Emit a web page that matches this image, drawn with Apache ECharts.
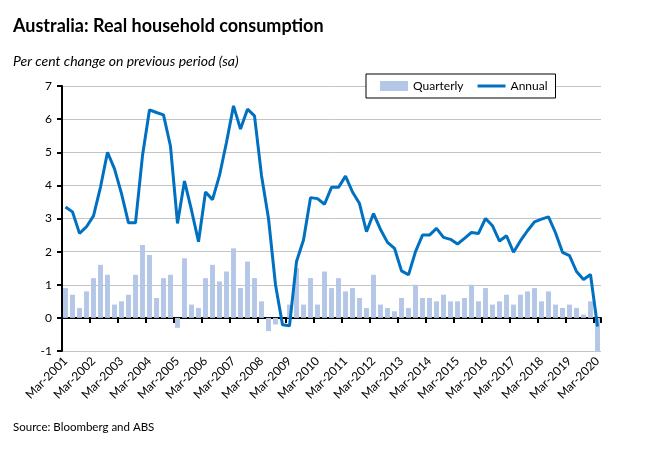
<!DOCTYPE html>
<html>
<head>
<meta charset="utf-8">
<script src="https://cdn.jsdelivr.net/npm/echarts@6/dist/echarts.min.js"></script>
<style>
html,body{margin:0;padding:0;background:#fff;}
#chart{width:650px;height:455px;}
</style>
</head>
<body>
<div id="chart"></div>
<script>
var categories = [
"Mar-2001","Jun-2001","Sep-2001","Dec-2001","Mar-2002","Jun-2002","Sep-2002","Dec-2002",
"Mar-2003","Jun-2003","Sep-2003","Dec-2003","Mar-2004","Jun-2004","Sep-2004","Dec-2004",
"Mar-2005","Jun-2005","Sep-2005","Dec-2005","Mar-2006","Jun-2006","Sep-2006","Dec-2006",
"Mar-2007","Jun-2007","Sep-2007","Dec-2007","Mar-2008","Jun-2008","Sep-2008","Dec-2008",
"Mar-2009","Jun-2009","Sep-2009","Dec-2009","Mar-2010","Jun-2010","Sep-2010","Dec-2010",
"Mar-2011","Jun-2011","Sep-2011","Dec-2011","Mar-2012","Jun-2012","Sep-2012","Dec-2012",
"Mar-2013","Jun-2013","Sep-2013","Dec-2013","Mar-2014","Jun-2014","Sep-2014","Dec-2014",
"Mar-2015","Jun-2015","Sep-2015","Dec-2015","Mar-2016","Jun-2016","Sep-2016","Dec-2016",
"Mar-2017","Jun-2017","Sep-2017","Dec-2017","Mar-2018","Jun-2018","Sep-2018","Dec-2018",
"Mar-2019","Jun-2019","Sep-2019","Dec-2019","Mar-2020"
];
var quarterly = [
0.9,0.7,0.3,0.8,1.2,1.6,1.3,0.4,0.5,0.7,1.3,2.2,1.9,0.6,1.2,1.3,-0.3,1.8,0.4,0.3,1.2,1.6,1.1,
1.4,2.1,0.9,1.7,1.2,0.5,-0.4,-0.2,0.0,0.4,1.5,0.4,1.2,0.4,1.4,0.9,1.2,0.8,0.9,0.6,0.3,1.3,0.4,0.3,0.2,0.6,0.3,1.0,
0.6,0.6,0.5,0.7,0.5,0.5,0.6,1.0,0.5,0.9,0.4,0.5,0.7,0.4,0.7,0.8,0.9,0.5,0.8,0.4,0.3,0.4,0.3,0.1,0.5,-1.0
];
var annual = [
3.35,3.2,2.55,2.75,3.08,3.95,5.0,4.5,3.75,2.87,2.87,4.9,6.28,6.2,6.13,5.18,2.85,4.13,3.25,2.3,3.8,3.57,4.3,
5.3,6.4,5.7,6.3,6.1,4.3,3.0,1.0,-0.21,-0.24,1.7,2.35,3.63,3.6,3.43,3.94,3.94,4.28,3.8,3.45,2.6,3.15,2.67,2.28,2.1,1.42,1.3,2.0,
2.5,2.5,2.7,2.43,2.37,2.23,2.4,2.58,2.55,3.0,2.78,2.32,2.48,1.98,2.33,2.63,2.9,2.98,3.05,2.57,1.98,1.88,1.4,1.16,1.31,-0.26
];
var yTicks = {min: -1, max: 7, interval: 1};
var FONT = 'Lato';

var chart = echarts.init(document.getElementById('chart'));
chart.setOption({
  animation: false,
  backgroundColor: '#fff',
  textStyle: {fontFamily: FONT},
  title: [
    {text: 'Australia: Real household consumption', left: 8, top: 12,
     textStyle: {fontFamily: FONT, fontSize: 18, fontWeight: 'bold', color: '#000'}},
    {text: 'Per cent change on previous period (sa)', left: 8, top: 49,
     textStyle: {fontFamily: FONT, fontSize: 14, fontStyle: 'italic', fontWeight: 'normal', color: '#000'}}
  ],
  legend: {
    left: 366, top: 74,
    padding: [6, 8, 6, 14],
    itemGap: 14,
    itemWidth: 28, itemHeight: 10,
    borderColor: '#000', borderWidth: 1,
    backgroundColor: '#fff',
    textStyle: {fontFamily: FONT, fontSize: 12, color: '#000'},
    data: [
      {name: 'Quarterly', icon: 'rect'},
      {name: 'Annual', icon: 'path://M0,0 L28,0 L28,3 L0,3 Z', itemStyle: {color: '#0070c0'}}
    ]
  },
  grid: {left: 62, right: 49, top: 86, bottom: 104, containLabel: false},
  xAxis: [
    {
      type: 'category', data: categories, position: 'bottom',
      axisLine: {show: false, onZero: false},
      axisTick: {show: false},
      axisLabel: {interval: 3, rotate: 45, margin: 8, fontFamily: FONT, fontSize: 12, color: '#000'},
      splitLine: {show: false}
    },
    {
      type: 'category', data: categories, position: 'bottom',
      axisLine: {show: true, onZero: true, lineStyle: {color: '#000', width: 2}},
      axisTick: {show: true, interval: 3, length: 5, lineStyle: {color: '#000', width: 2}},
      axisLabel: {show: false},
      splitLine: {show: false}
    }
  ],
  yAxis: {
    type: 'value', min: yTicks.min, max: yTicks.max, interval: yTicks.interval,
    axisLine: {show: true, onZero: false, lineStyle: {color: '#000', width: 2}},
    axisTick: {show: true, length: 5, lineStyle: {color: '#000', width: 2}},
    axisLabel: {margin: 10, fontFamily: FONT, fontSize: 12, color: '#000'},
    splitLine: {show: true, lineStyle: {color: '#c4c4c4', width: 1}}
  },
  series: [
    {name: 'Quarterly', type: 'bar', xAxisIndex: 0, data: quarterly,
     barCategoryGap: '30%', itemStyle: {color: '#b4c7e7'}, z: 1},
    {name: 'Annual', type: 'line', xAxisIndex: 0, data: annual,
     symbol: 'none', showSymbol: false, lineStyle: {color: '#0070c0', width: 3}, itemStyle: {color: '#0070c0'}, z: 3}
  ],
  graphic: [
    {type: 'text', left: 13, top: 421,
     style: {text: 'Source: Bloomberg and ABS', font: '11.5px ' + FONT, fill: '#000'}}
  ]
});
</script>
</body>
</html>
